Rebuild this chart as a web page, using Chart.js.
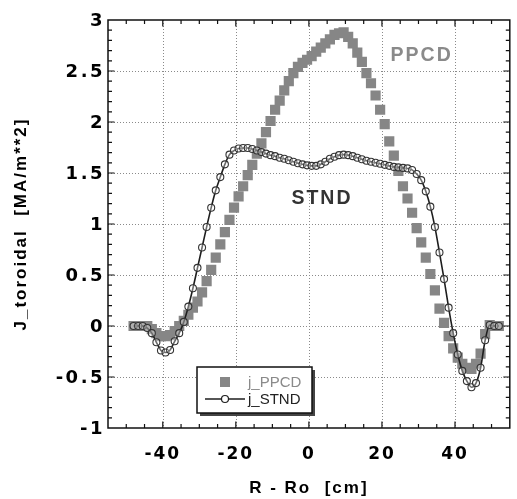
<!DOCTYPE html>
<html><head><meta charset="utf-8">
<script src="https://cdn.jsdelivr.net/npm/chart.js@4"></script>
<style>html,body{margin:0;padding:0;background:#fff;overflow:hidden}</style>
</head><body>
<canvas id="c" width="517" height="499"></canvas>
<script>
// ---- data ----
const rPositions = [
 -48,-46.75,-45.5,-44.25,-43,-41.75,-40.5,-39.25,-38,-36.75,
 -35.5,-34.25,-33,-31.75,-30.5,-29.25,-28,-26.75,-25.5,-24.25,
 -23,-21.75,-20.5,-19.25,-18,-16.75,-15.5,-14.25,-13,-11.75,
 -10.5,-9.25,-8,-6.75,-5.5,-4.25,-3,-1.75,-0.5,0.75,
 2,3.25,4.5,5.75,7,8.25,9.5,10.75,12,13.25,
 14.5,15.75,17,18.25,19.5,20.75,22,23.25,24.5,25.75,
 27,28.25,29.5,30.75,32,33.25,34.5,35.75,37,38.25,
 39.5,40.75,42,43.25,44.5,45.75,47,48.25,49.5,50.75,
 52];
const jPPCD = [
 0,0,0,0,-0.03,-0.07,-0.10,-0.10,-0.09,-0.05,
 0.0,0.05,0.11,0.18,0.24,0.33,0.44,0.55,0.67,0.80,
 0.92,1.04,1.16,1.27,1.37,1.48,1.58,1.69,1.79,1.90,
 2.01,2.12,2.21,2.31,2.40,2.48,2.54,2.58,2.61,2.645,
 2.69,2.73,2.77,2.81,2.855,2.87,2.88,2.835,2.77,2.68,
 2.59,2.48,2.38,2.26,2.12,1.98,1.81,1.67,1.52,1.37,
 1.25,1.11,0.96,0.82,0.67,0.51,0.35,0.17,0.03,-0.10,
 -0.22,-0.31,-0.37,-0.41,-0.42,-0.37,-0.27,-0.08,0.01,0.0,
 0.0];
const jSTND = [
 0,0,0,-0.02,-0.07,-0.16,-0.24,-0.26,-0.235,-0.15,
 -0.07,0.04,0.19,0.37,0.57,0.77,0.97,1.16,1.33,1.46,
 1.585,1.68,1.72,1.74,1.745,1.745,1.735,1.72,1.705,1.69,
 1.675,1.665,1.65,1.64,1.625,1.61,1.595,1.585,1.575,1.57,
 1.57,1.585,1.61,1.64,1.66,1.675,1.68,1.675,1.665,1.65,
 1.635,1.62,1.61,1.60,1.59,1.58,1.57,1.56,1.555,1.55,
 1.545,1.53,1.49,1.43,1.32,1.17,0.97,0.72,0.46,0.18,
 -0.07,-0.28,-0.44,-0.54,-0.60,-0.56,-0.41,-0.14,0.01,0.0,
 0.0];
const seriesNames = ["j_PPCD", "j_STND"];
const curveNames = ["PPCD", "STND"];
const xTickValues = [-40, -20, 0, 20, 40];
const xTickLabels = ["-40", "-20", "0", "20", "40"];
const yTickValues = [-1, -0.5, 0, 0.5, 1, 1.5, 2, 2.5, 3];
const yTickLabels = ["-1", "-0.5", "0", "0.5", "1", "1.5", "2", "2.5", "3"];
const xTitle = "R - Ro  [cm]";
const yTitle = "J_toroidal  [MA/m**2]";

// ---- styling / layout ----
const FONT = '"Liberation Sans", Arial, Helvetica, sans-serif';
const TICKFONT = '"DejaVu Sans", "Liberation Sans", Arial, sans-serif';
const PPCD_COLOR = '#868686';
const STND_COLOR = '#1e1e1e';
const curveLabelPos = [{x: 30.6, y: 2.65, color: '#8a8a8a'}, {x: 3.3, y: 1.245, color: '#333333'}];

const toPts = (xs, ys) => xs.map((x, i) => ({x: x, y: ys[i]}));

function drawDotGrid(chart) {
  const {ctx, chartArea, scales} = chart;
  if (!chartArea || !scales.x || !scales.y) return;
  const {left, right, top, bottom} = chartArea;
  ctx.save();
  ctx.strokeStyle = '#8a8a8a';
  ctx.lineWidth = 1;
  ctx.setLineDash([1, 2]);
  ctx.beginPath();
  xTickValues.forEach(v => {
    const px = Math.round(scales.x.getPixelForValue(v)) + 0.5;
    ctx.moveTo(px, top); ctx.lineTo(px, bottom);
  });
  yTickValues.forEach(v => {
    const py = Math.round(scales.y.getPixelForValue(v)) + 0.5;
    if (py < top + 2 || py > bottom - 2) return;
    ctx.moveTo(left, py); ctx.lineTo(right, py);
  });
  ctx.stroke();
  ctx.restore();
}

const spacingPlugin = {
  id: 'spacing',
  beforeUpdate(chart) { chart.ctx.letterSpacing = '2px'; },
  beforeLayout(chart) { chart.ctx.letterSpacing = '2px'; },
  beforeDraw(chart) {
    chart.ctx.letterSpacing = '2px';
    drawDotGrid(chart);
  }
};

const framePlugin = {
  id: 'frame',
  afterDraw(chart) {
    const {ctx, chartArea: {left, right, top, bottom}, scales: {x, y}} = chart;
    ctx.save();
    ctx.letterSpacing = '0px';
    ctx.strokeStyle = '#111';
    ctx.lineWidth = 1.5;
    ctx.strokeRect(left, top, right - left, bottom - top);
    ctx.lineWidth = 1.2;
    ctx.beginPath();
    for (let k = -10; k <= 10; k++) {
      const v = 5 * k;
      const px = x.getPixelForValue(v);
      const len = (v % 20 === 0) ? 6.5 : 4;
      ctx.moveTo(px, bottom); ctx.lineTo(px, bottom - len);
      ctx.moveTo(px, top); ctx.lineTo(px, top + len);
    }
    for (let k = -9; k <= 29; k++) {
      const py = y.getPixelForValue(k / 10);
      const len = (k % 5 === 0) ? 6.5 : 4;
      ctx.moveTo(left, py); ctx.lineTo(left + len, py);
      ctx.moveTo(right, py); ctx.lineTo(right - len, py);
    }
    ctx.stroke();

    // y tick labels (positioned from the y scale)
    ctx.font = 'bold 18px ' + TICKFONT;
    ctx.letterSpacing = '2.5px';
    ctx.textAlign = 'left';
    ctx.textBaseline = 'middle';
    ctx.fillStyle = '#000';
    yTickValues.forEach((v, i) => {
      const w = ctx.measureText(yTickLabels[i]).width;
      ctx.fillText(yTickLabels[i], left - 3 - w, y.getPixelForValue(v) + 1);
    });

    // curve name labels
    ctx.font = 'bold 19.5px ' + FONT;
    ctx.letterSpacing = '2px';
    ctx.textAlign = 'center';
    ctx.textBaseline = 'middle';
    curveNames.forEach((t, i) => {
      ctx.fillStyle = curveLabelPos[i].color;
      ctx.fillText(t, x.getPixelForValue(curveLabelPos[i].x) + 1, y.getPixelForValue(curveLabelPos[i].y));
    });

    // legend box
    const bx = 197, by = 367, bw = 115, bh = 46;
    ctx.letterSpacing = '0px';
    ctx.fillStyle = '#444';
    ctx.fillRect(bx + 3, by + 3, bw, bh);
    ctx.fillStyle = '#fff';
    ctx.fillRect(bx, by, bw, bh);
    ctx.strokeStyle = '#111';
    ctx.lineWidth = 1.5;
    ctx.strokeRect(bx, by, bw, bh);
    const ds = chart.data.datasets;
    const dP = ds.find(d => d.label === seriesNames[0]);
    const dS = ds.find(d => d.label === seriesNames[1]);
    ctx.fillStyle = dP.backgroundColor;
    ctx.fillRect(220, 377, 10, 10);
    ctx.strokeStyle = dS.borderColor;
    ctx.lineWidth = 1.5;
    ctx.beginPath(); ctx.moveTo(205, 399); ctx.lineTo(245, 399); ctx.stroke();
    ctx.fillStyle = '#fff';
    ctx.lineWidth = 1.2;
    ctx.beginPath(); ctx.arc(225, 399, 3.5, 0, Math.PI * 2); ctx.fill(); ctx.stroke();
    ctx.font = '15px ' + FONT;
    ctx.textAlign = 'left';
    ctx.textBaseline = 'middle';
    ctx.fillStyle = '#8a8a8a';
    ctx.fillText(dP.label, 248, 383);
    ctx.fillStyle = '#222';
    ctx.fillText(dS.label, 248, 400);
    ctx.restore();
  }
};

const canvas = document.getElementById('c');
const ctx = canvas.getContext('2d');

new Chart(ctx, {
  type: 'scatter',
  data: {
    datasets: [
      {
        label: seriesNames[1],
        data: toPts(rPositions, jSTND),
        showLine: true,
        cubicInterpolationMode: 'monotone',
        borderColor: STND_COLOR,
        borderWidth: 1.6,
        pointStyle: 'circle',
        pointRadius: 3.5,
        pointBorderWidth: 1.1,
        pointBorderColor: '#333',
        pointBackgroundColor: 'rgba(255,255,255,0.35)',
        order: 0
      },
      {
        label: seriesNames[0],
        data: toPts(rPositions, jPPCD),
        showLine: false,
        pointStyle: 'rect',
        pointRadius: 7.2,
        borderWidth: 0,
        backgroundColor: PPCD_COLOR,
        pointBackgroundColor: PPCD_COLOR,
        order: 1
      }
    ]
  },
  options: {
    responsive: false,
    animation: false,
    devicePixelRatio: 1,
    layout: {padding: {top: 20, right: -2, left: 0, bottom: 0}},
    plugins: {legend: {display: false}, tooltip: {enabled: false}},
    scales: {
      x: {
        type: 'linear', min: -55, max: 55,
        afterBuildTicks: s => { s.ticks = xTickValues.map(v => ({value: v})); },
        afterFit: s => { s.height = 71; },
        ticks: {
          callback: (v) => xTickLabels[xTickValues.indexOf(v)],
          font: {family: TICKFONT, size: 17, weight: 'bold'}, color: '#000', padding: 8, maxRotation: 0
        },
        grid: {display: false},
        border: {display: false},
        title: {display: true, text: xTitle, font: {family: FONT, size: 17, weight: 'bold'}, color: '#000', padding: {top: 0, bottom: 0}}
      },
      y: {
        type: 'linear', min: -1, max: 3,
        afterBuildTicks: s => { s.ticks = yTickValues.map(v => ({value: v})); },
        afterFit: s => { s.width = 108; },
        ticks: {display: false},
        grid: {display: false},
        border: {display: false},
        title: {display: true, text: yTitle, font: {family: FONT, size: 17, weight: 'bold'}, color: '#000', padding: {top: 11, bottom: 0}}
      }
    }
  },
  plugins: [spacingPlugin, framePlugin]
});
</script>
</body></html>
